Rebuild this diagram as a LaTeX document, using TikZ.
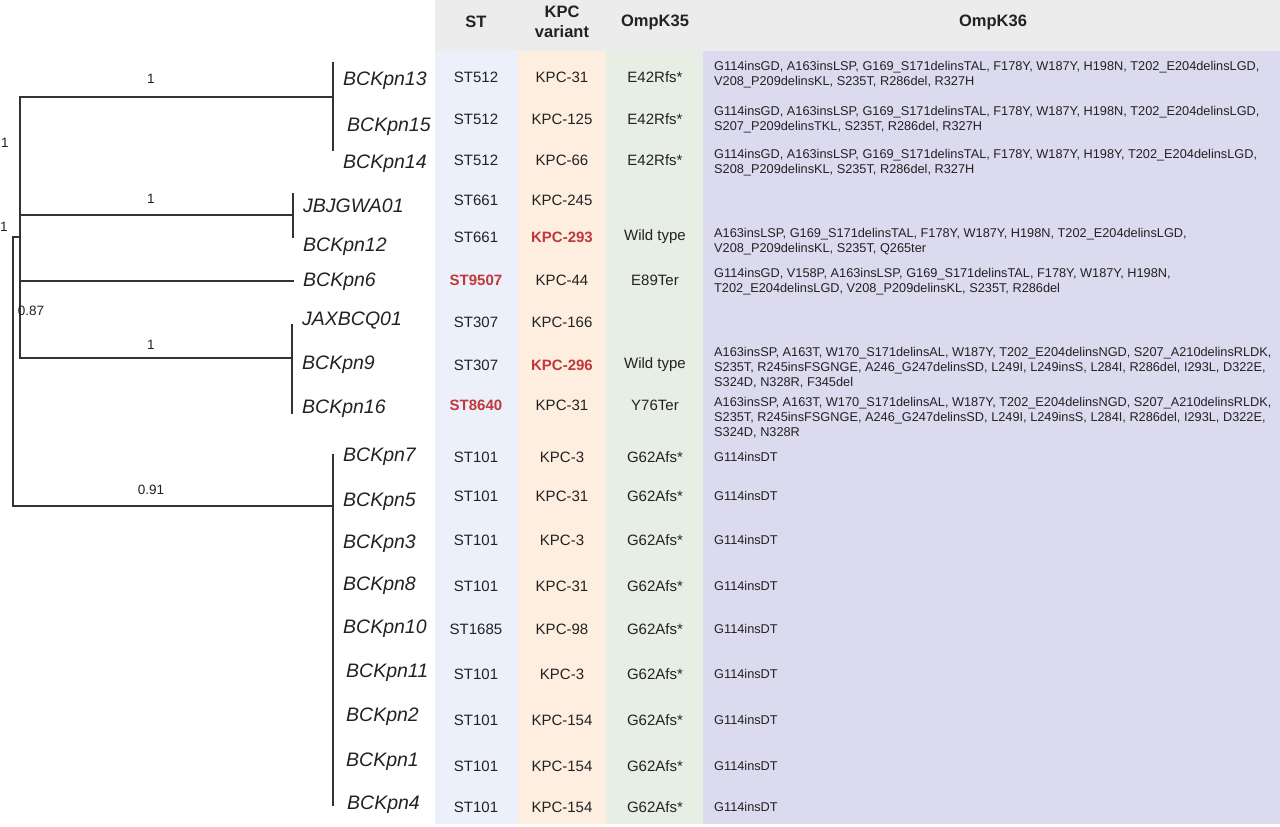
\documentclass[tikz,border=0pt]{standalone}
\usepackage{fontspec}
\setmainfont{Liberation Sans}
\definecolor{txt}{HTML}{222222}
\definecolor{tree}{HTML}{333333}
\definecolor{hired}{HTML}{C0383A}
\definecolor{hdrgray}{HTML}{ECECEC}
\definecolor{stblue}{HTML}{EBF0FB}
\definecolor{kpcor}{HTML}{FDEEE0}
\definecolor{ompgr}{HTML}{E7EFE4}
\definecolor{omplav}{HTML}{DCDAEE}
\begin{document}
\begin{tikzpicture}[x=1pt,y=-1pt,
  leaf/.style={anchor=west,inner sep=0pt,font=\fontsize{19.5}{22}\selectfont\itshape,text=txt},
  cell/.style={inner sep=0pt,font=\fontsize{15}{17}\selectfont,text=txt},
  hl/.style={inner sep=0pt,font=\fontsize{15}{17}\selectfont\bfseries,text=hired},
  mut/.style={anchor=west,inner sep=0pt,align=left,font=\fontsize{12.75}{15}\selectfont,text=txt},
  boot/.style={inner sep=0pt,font=\fontsize{13.5}{15}\selectfont,text=txt},
  hdr/.style={inner sep=0pt,align=center,font=\fontsize{16.5}{20}\selectfont\bfseries,text=txt},
  br/.style={line width=2pt,draw=tree,line cap=rect}]
\useasboundingbox (0,0) rectangle (1280,827);
\fill[white] (0,0) rectangle (1280,827);
% table backgrounds
\fill[hdrgray] (435,0) rectangle (1280,51);
\fill[stblue] (435,51) rectangle (518,824);
\fill[kpcor] (518,51) rectangle (606,824);
\fill[ompgr] (606,51) rectangle (703,824);
\fill[omplav] (703,51) rectangle (1280,824);
% headers
\node[hdr] (hST) at (476,22) {ST};
\node[hdr] (hKPC) at (562,22) {KPC\\variant};
\node[hdr] (h35) at (655,22) {OmpK35};
\node[hdr] (h36) at (993,22) {OmpK36};
% tree coordinates
\coordinate (r0) at (13,237);
\coordinate (r1) at (13,506);
\coordinate (n0) at (20,237);
\coordinate (i0) at (20,97);
\coordinate (i1) at (20,358);
\coordinate (a0) at (333,97);
\coordinate (a1) at (333,63);
\coordinate (a2) at (333,150);
\coordinate (bs) at (20,215);
\coordinate (b0) at (293,215);
\coordinate (b1) at (293,194);
\coordinate (b2) at (293,237);
\coordinate (cs) at (20,281);
\coordinate (c0) at (293,281);
\coordinate (d0) at (292,358);
\coordinate (d1) at (292,325);
\coordinate (d2) at (292,413);
\coordinate (e0) at (333,506);
\coordinate (e1) at (333,455);
\coordinate (e2) at (333,805);
% tree branches
\draw[br] (r0) -- (r1);
\draw[br] (r0) -- (n0);
\draw[br] (i0) -- (i1);
\draw[br] (i0) -- (a0);
\draw[br] (a1) -- (a2);
\draw[br] (bs) -- (b0);
\draw[br] (b1) -- (b2);
\draw[br] (cs) -- (c0);
\draw[br] (i1) -- (d0);
\draw[br] (d1) -- (d2);
\draw[br] (r1) -- (e0);
\draw[br] (e1) -- (e2);
% support values
\node[boot] (s1) at (151,79) {1};
\node[boot] (s2) at (151,199) {1};
\node[boot] (s3) at (151,345) {1};
\node[boot] (s4) at (151,490) {0.91};
\node[boot] (s5) at (5,143) {1};
\node[boot] (s6) at (4,227) {1};
\node[boot] (s7) at (31,311) {0.87};
% leaves
\node[leaf] (l13) at (343,81) {BCKpn13};
\node[leaf] (l15) at (347,127) {BCKpn15};
\node[leaf] (l14) at (343,164) {BCKpn14};
\node[leaf] (lJB) at (303,206) {JBJGWA01};
\node[leaf] (l12) at (303,247) {BCKpn12};
\node[leaf] (l6) at (303,282) {BCKpn6};
\node[leaf] (lJA) at (302,321) {JAXBCQ01};
\node[leaf] (l9) at (302,365) {BCKpn9};
\node[leaf] (l16) at (302,409) {BCKpn16};
\node[leaf] (l7) at (343,457) {BCKpn7};
\node[leaf] (l5) at (343,502) {BCKpn5};
\node[leaf] (l3) at (343,544) {BCKpn3};
\node[leaf] (l8) at (343,586) {BCKpn8};
\node[leaf] (l10) at (343,629) {BCKpn10};
\node[leaf] (l11) at (346,673) {BCKpn11};
\node[leaf] (l2) at (346,717) {BCKpn2};
\node[leaf] (l1) at (346,762) {BCKpn1};
\node[leaf] (l4) at (347,805) {BCKpn4};
% ST column
\node[cell] (st1) at (476,77) {ST512};
\node[cell] (st2) at (476,119) {ST512};
\node[cell] (st3) at (476,160) {ST512};
\node[cell] (st4) at (476,200) {ST661};
\node[cell] (st5) at (476,237) {ST661};
\node[hl] (st6) at (476,280) {ST9507};
\node[cell] (st7) at (476,322) {ST307};
\node[cell] (st8) at (476,365) {ST307};
\node[hl] (st9) at (476,405) {ST8640};
\node[cell] (st10) at (476,457) {ST101};
\node[cell] (st11) at (476,496) {ST101};
\node[cell] (st12) at (476,540) {ST101};
\node[cell] (st13) at (476,586) {ST101};
\node[cell] (st14) at (476,629) {ST1685};
\node[cell] (st15) at (476,674) {ST101};
\node[cell] (st16) at (476,720) {ST101};
\node[cell] (st17) at (476,766) {ST101};
\node[cell] (st18) at (476,807) {ST101};
% KPC column
\node[cell] (k1) at (562,77) {KPC-31};
\node[cell] (k2) at (562,119) {KPC-125};
\node[cell] (k3) at (562,160) {KPC-66};
\node[cell] (k4) at (562,200) {KPC-245};
\node[hl] (k5) at (562,237) {KPC-293};
\node[cell] (k6) at (562,280) {KPC-44};
\node[cell] (k7) at (562,322) {KPC-166};
\node[hl] (k8) at (562,365) {KPC-296};
\node[cell] (k9) at (562,405) {KPC-31};
\node[cell] (k10) at (562,457) {KPC-3};
\node[cell] (k11) at (562,496) {KPC-31};
\node[cell] (k12) at (562,540) {KPC-3};
\node[cell] (k13) at (562,586) {KPC-31};
\node[cell] (k14) at (562,629) {KPC-98};
\node[cell] (k15) at (562,674) {KPC-3};
\node[cell] (k16) at (562,720) {KPC-154};
\node[cell] (k17) at (562,766) {KPC-154};
\node[cell] (k18) at (562,807) {KPC-154};
% OmpK35 column
\node[cell] (o1) at (655,77) {E42Rfs*};
\node[cell] (o2) at (655,119) {E42Rfs*};
\node[cell] (o3) at (655,160) {E42Rfs*};
\node[cell] (o5) at (655,237) {Wild type};
\node[cell] (o6) at (655,280) {E89Ter};
\node[cell] (o8) at (655,365) {Wild type};
\node[cell] (o9) at (655,405) {Y76Ter};
\node[cell] (o10) at (655,457) {G62Afs*};
\node[cell] (o11) at (655,496) {G62Afs*};
\node[cell] (o12) at (655,540) {G62Afs*};
\node[cell] (o13) at (655,586) {G62Afs*};
\node[cell] (o14) at (655,629) {G62Afs*};
\node[cell] (o15) at (655,674) {G62Afs*};
\node[cell] (o16) at (655,720) {G62Afs*};
\node[cell] (o17) at (655,766) {G62Afs*};
\node[cell] (o18) at (655,807) {G62Afs*};
% OmpK36 column
\node[mut] (m1) at (714,75) {G114insGD, A163insLSP, G169\_S171delinsTAL, F178Y, W187Y, H198N, T202\_E204delinsLGD,\\V208\_P209delinsKL, S235T, R286del, R327H};
\node[mut] (m2) at (714,120) {G114insGD, A163insLSP, G169\_S171delinsTAL, F178Y, W187Y, H198N, T202\_E204delinsLGD,\\S207\_P209delinsTKL, S235T, R286del, R327H};
\node[mut] (m3) at (714,163) {G114insGD, A163insLSP, G169\_S171delinsTAL, F178Y, W187Y, H198Y, T202\_E204delinsLGD,\\S208\_P209delinsKL, S235T, R286del, R327H};
\node[mut] (m5) at (714,242) {A163insLSP, G169\_S171delinsTAL, F178Y, W187Y, H198N, T202\_E204delinsLGD,\\V208\_P209delinsKL, S235T, Q265ter};
\node[mut] (m6) at (714,282) {G114insGD, V158P, A163insLSP, G169\_S171delinsTAL, F178Y, W187Y, H198N,\\T202\_E204delinsLGD, V208\_P209delinsKL, S235T, R286del};
\node[mut] (m8) at (714,368) {A163insSP, A163T, W170\_S171delinsAL, W187Y, T202\_E204delinsNGD, S207\_A210delinsRLDK,\\S235T, R245insFSGNGE, A246\_G247delinsSD, L249I, L249insS, L284I, R286del, I293L, D322E,\\S324D, N328R, F345del};
\node[mut] (m9) at (714,418) {A163insSP, A163T, W170\_S171delinsAL, W187Y, T202\_E204delinsNGD, S207\_A210delinsRLDK,\\S235T, R245insFSGNGE, A246\_G247delinsSD, L249I, L249insS, L284I, R286del, I293L, D322E,\\S324D, N328R};
\node[mut] (m10) at (714,457) {G114insDT};
\node[mut] (m11) at (714,496) {G114insDT};
\node[mut] (m12) at (714,540) {G114insDT};
\node[mut] (m13) at (714,586) {G114insDT};
\node[mut] (m14) at (714,629) {G114insDT};
\node[mut] (m15) at (714,674) {G114insDT};
\node[mut] (m16) at (714,720) {G114insDT};
\node[mut] (m17) at (714,766) {G114insDT};
\node[mut] (m18) at (714,807) {G114insDT};
\end{tikzpicture}
\end{document}
